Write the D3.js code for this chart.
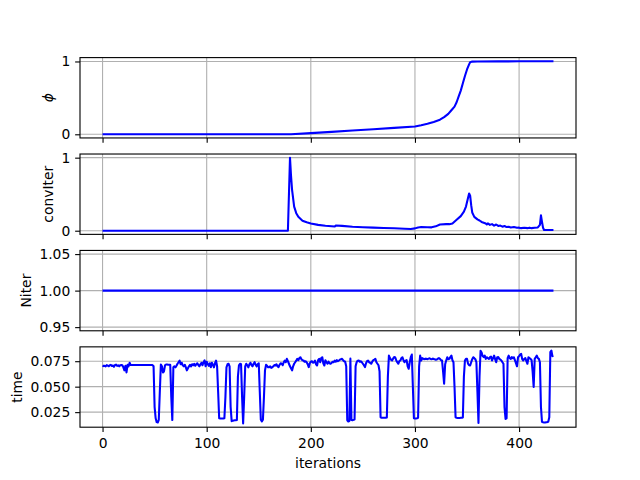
<!DOCTYPE html>
<html><head><meta charset="utf-8">
<script src="https://cdn.jsdelivr.net/npm/d3@7"></script>
<style>body{margin:0;background:#fff} text{font-family:"DejaVu Sans";}</style>
</head><body><svg id="c" width="640" height="480"></svg>
<script>
// ---------- data ----------
const iterTicks = [0, 100, 200, 300, 400];

const phiIter  = [0,181,200,220,240,260,280,300,306,312,318,324,328,332,335,338,340,342,344,346,348,350,352,353,355,360,380,400,420,433];
const phiValue = [0,0,0.016,0.033,0.051,0.069,0.088,0.108,0.125,0.145,0.17,0.2,0.235,0.28,0.33,0.38,0.44,0.52,0.6,0.7,0.8,0.89,0.96,0.99,0.998,1.0,1.001,1.002,1.003,1.003];
const phiTicks = [0, 1];
const phiTickLabels = ["0", "1"];

const convIterIter  = [0,178,180,181,182,184,186,188,192,196,200,207,214,223,224,230,240,250,260,270,280,290,296,300,303,306,312,316,320,324,330,333,336,340,344,347,349,351,352,353,354,355,357,360,362,364,366,368,369,370,372,374,376,378,380,382,384,386,388,390,392,395,398,400,402,405,408,410,412,415,418,420,421,422,423,424,433];
const convIterValue = [0,0,1.0,0.75,0.56,0.33,0.24,0.19,0.137,0.115,0.1,0.08,0.068,0.057,0.072,0.066,0.055,0.048,0.042,0.037,0.033,0.028,0.024,0.032,0.045,0.05,0.048,0.046,0.06,0.085,0.09,0.09,0.1,0.15,0.2,0.26,0.33,0.45,0.51,0.48,0.35,0.25,0.19,0.155,0.14,0.12,0.11,0.1,0.085,0.1,0.08,0.09,0.07,0.085,0.065,0.07,0.055,0.065,0.05,0.055,0.045,0.05,0.04,0.042,0.035,0.04,0.035,0.042,0.035,0.04,0.045,0.08,0.21,0.12,0.04,0.01,0.01];
const convTicks = [0, 1];
const convTickLabels = ["0", "1"];

const niterIter  = [0, 433];
const niterValue = [1, 1];
const niterTicks = [0.95, 1.00, 1.05];
const niterTickLabels = ["0.95", "1.00", "1.05"];

const timeValue = [
0.0708,0.0702,0.0705,0.0698,0.0712,0.0706,0.0700,0.0710,0.0714,0.0703,
0.0708,0.0695,0.0712,0.0716,0.0704,0.0709,0.0700,0.0711,0.0713,0.0710,
0.0690,0.0660,0.0705,0.0640,0.0715,0.0700,0.0735,0.0712,0.0712,0.0712,
0.0712,0.0712,0.0712,0.0712,0.0712,0.0712,0.0712,0.0712,0.0712,0.0712,
0.0712,0.0712,0.0712,0.0712,0.0712,0.0712,0.0712,0.0712,0.0712,0.0700,
0.0300,0.0190,0.0152,0.0148,0.0175,0.0450,0.0718,0.0700,0.0640,0.0650,
0.0710,0.0718,0.0718,0.0716,0.0716,0.0716,0.0400,0.0172,0.0690,0.0700,
0.0690,0.0705,0.0725,0.0740,0.0755,0.0720,0.0735,0.0710,0.0700,0.0715,
0.0690,0.0660,0.0680,0.0700,0.0715,0.0700,0.0720,0.0710,0.0725,0.0705,
0.0718,0.0730,0.0712,0.0700,0.0720,0.0735,0.0710,0.0740,0.0758,0.0700,
0.0745,0.0720,0.0705,0.0730,0.0690,0.0735,0.0715,0.0690,0.0730,0.0755,
0.0700,0.0450,0.0190,0.0188,0.0188,0.0188,0.0188,0.0190,0.0400,0.0690,
0.0720,0.0725,0.0700,0.0300,0.0162,0.0165,0.0168,0.0170,0.0170,0.0172,
0.0600,0.0710,0.0725,0.0720,0.0400,0.0138,0.0400,0.0700,0.0725,0.0710,
0.0690,0.0720,0.0735,0.0712,0.0700,0.0725,0.0740,0.0715,0.0700,0.0720,
0.0730,0.0450,0.0175,0.0160,0.0175,0.0400,0.0660,0.0714,0.0705,0.0690,
0.0692,0.0700,0.0685,0.0690,0.0700,0.0712,0.0708,0.0720,0.0700,0.0692,
0.0715,0.0730,0.0725,0.0710,0.0740,0.0756,0.0740,0.0773,0.0750,0.0725,
0.0700,0.0680,0.0660,0.0700,0.0725,0.0740,0.0755,0.0773,0.0760,0.0780,
0.0789,0.0770,0.0760,0.0757,0.0745,0.0750,0.0740,0.0720,0.0692,0.0730,
0.0745,0.0750,0.0735,0.0740,0.0755,0.0720,0.0708,0.0760,0.0773,0.0740,
0.0780,0.0789,0.0730,0.0708,0.0760,0.0740,0.0725,0.0745,0.0730,0.0725,
0.0735,0.0745,0.0740,0.0755,0.0745,0.0760,0.0750,0.0757,0.0765,0.0770,
0.0773,0.0760,0.0750,0.0745,0.0700,0.0170,0.0158,0.0162,0.0775,0.0172,
0.0170,0.0174,0.0178,0.0700,0.0740,0.0755,0.0757,0.0745,0.0750,0.0740,
0.0725,0.0710,0.0692,0.0730,0.0750,0.0757,0.0740,0.0735,0.0725,0.0745,
0.0760,0.0765,0.0773,0.0740,0.0725,0.0710,0.0650,0.0200,0.0195,0.0195,
0.0195,0.0195,0.0195,0.0197,0.0600,0.0805,0.0780,0.0765,0.0757,0.0775,
0.0790,0.0789,0.0760,0.0740,0.0725,0.0750,0.0757,0.0780,0.0789,0.0760,
0.0740,0.0755,0.0760,0.0700,0.0676,0.0740,0.0790,0.0815,0.0500,0.0190,
0.0188,0.0188,0.0190,0.0195,0.0700,0.0805,0.0757,0.0780,0.0773,0.0770,
0.0775,0.0773,0.0770,0.0775,0.0778,0.0772,0.0770,0.0775,0.0773,0.0768,
0.0765,0.0767,0.0775,0.0780,0.0773,0.0760,0.0757,0.0650,0.0530,0.0720,
0.0757,0.0789,0.0770,0.0773,0.0790,0.0805,0.0760,0.0740,0.0500,0.0200,
0.0195,0.0193,0.0193,0.0193,0.0195,0.0195,0.0198,0.0600,0.0757,0.0773,
0.0773,0.0725,0.0710,0.0708,0.0740,0.0770,0.0789,0.0780,0.0770,0.0740,
0.0450,0.0143,0.0600,0.0853,0.0835,0.0800,0.0790,0.0805,0.0773,0.0789,
0.0780,0.0773,0.0789,0.0795,0.0757,0.0780,0.0805,0.0770,0.0740,0.0789,
0.0790,0.0773,0.0765,0.0757,0.0740,0.0725,0.0300,0.0184,0.0190,0.0780,
0.0805,0.0780,0.0773,0.0790,0.0780,0.0789,0.0760,0.0730,0.0700,0.0789,
0.0800,0.0815,0.0822,0.0770,0.0757,0.0773,0.0780,0.0750,0.0725,0.0789,
0.0780,0.0773,0.0760,0.0650,0.0498,0.0773,0.0789,0.0805,0.0780,0.0773,
0.0740,0.0300,0.0155,0.0150,0.0148,0.0148,0.0150,0.0152,0.0155,0.0200,
0.0840,0.0855,0.0800,0.0805];
const timeIter = d3.range(timeValue.length);
const timeTicks = [0.025, 0.050, 0.075];
const timeTickLabels = ["0.025", "0.050", "0.075"];

const xLabel = "iterations";

// ---------- layout ----------
const W = 640, H = 480;
const L = 80, R = 576, T = 57.6, B = 427.2, hs = 0.2;
const fs = 13.89, tickLen = 4.86, tickPad = 4.86, lw = 1.11;

const panels = [
  {xs: phiIter, ys: phiValue, ticks: phiTicks, labels: phiTickLabels, name: "ϕ", italic: true},
  {xs: convIterIter, ys: convIterValue, ticks: convTicks, labels: convTickLabels, name: "convIter"},
  {xs: niterIter, ys: niterValue, ticks: niterTicks, labels: niterTickLabels, name: "Niter"},
  {xs: timeIter, ys: timeValue, ticks: timeTicks, labels: timeTickLabels, name: "time"}
];

const svg = d3.select("#c");
svg.append("rect").attr("width", W).attr("height", H).attr("fill", "#fff");

const n = panels.length;
const ah = (B - T) / (n + (n - 1) * hs);
const allX = panels.flatMap(p => p.xs);
const xMin = d3.min(allX), xMax = d3.max(allX), xSpan = xMax - xMin;
const x = d3.scaleLinear().domain([xMin - 0.05 * xSpan, xMax + 0.05 * xSpan]).range([L, R]);

panels.forEach((p, k) => {
  const top = T + k * ah * (1 + hs), bot = top + ah;
  let [lo, hi] = d3.extent(p.ys);
  if (lo === hi) { lo -= 0.05 * Math.abs(lo); hi += 0.05 * Math.abs(hi); }
  const pad = 0.05 * (hi - lo);
  const y = d3.scaleLinear().domain([lo - pad, hi + pad]).range([bot, top]);
  const g = svg.append("g");

  // grid
  g.append("g").selectAll("line").data(iterTicks).join("line")
    .attr("x1", d => x(d)).attr("x2", d => x(d)).attr("y1", top).attr("y2", bot)
    .attr("stroke", "#b0b0b0").attr("stroke-width", lw);
  g.append("g").selectAll("line").data(p.ticks).join("line")
    .attr("x1", L).attr("x2", R).attr("y1", d => y(d)).attr("y2", d => y(d))
    .attr("stroke", "#b0b0b0").attr("stroke-width", lw);

  // line
  const clipId = "clip" + k;
  svg.append("clipPath").attr("id", clipId).append("rect")
    .attr("x", L).attr("y", top).attr("width", R - L).attr("height", ah);
  g.append("path").datum(d3.zip(p.xs, p.ys))
    .attr("clip-path", `url(#${clipId})`)
    .attr("d", d3.line().x(d => x(d[0])).y(d => y(d[1])))
    .attr("fill", "none").attr("stroke", "#0000ff").attr("stroke-width", 2.08)
    .attr("stroke-linejoin", "round");

  // spines
  g.append("rect").attr("x", L).attr("y", top).attr("width", R - L).attr("height", ah)
    .attr("fill", "none").attr("stroke", "#000").attr("stroke-width", lw);

  // x axis
  const xa = d3.axisBottom(x).tickValues(iterTicks).tickSize(tickLen).tickPadding(tickPad + 1.4)
    .tickFormat(k === n - 1 ? d3.format("d") : () => "");
  const gx = g.append("g").attr("transform", `translate(0,${bot})`).call(xa);
  gx.select(".domain").remove();
  gx.selectAll(".tick line").attr("stroke", "#000").attr("stroke-width", lw);
  gx.selectAll("text").attr("font-size", fs).attr("font-family", "DejaVu Sans").attr("fill", "#000");

  // y axis
  const ya = d3.axisLeft(y).tickValues(p.ticks).tickSize(tickLen).tickPadding(tickPad)
    .tickFormat((d, i) => p.labels[i]);
  const gy = g.append("g").attr("transform", `translate(${L},0)`).call(ya);
  gy.select(".domain").remove();
  gy.selectAll(".tick line").attr("stroke", "#000").attr("stroke-width", lw);
  gy.selectAll("text").attr("font-size", fs).attr("font-family", "DejaVu Sans").attr("fill", "#000");

  let minX = Infinity;
  gy.selectAll("text").each(function () {
    const w = this.getComputedTextLength();
    minX = Math.min(minX, L - tickLen - tickPad - w);
  });
  const labelRight = minX - 5.56;
  const baseX = labelRight - 0.236 * fs;
  const cy = (top + bot) / 2;
  g.append("text").text(p.name)
    .attr("transform", `translate(${baseX},${cy}) rotate(-90)`)
    .attr("text-anchor", "middle").attr("font-size", fs)
    .attr("font-style", p.italic ? "italic" : "normal").attr("fill", "#000");
});

svg.append("text").text(xLabel).attr("x", (L + R) / 2).attr("y", 468)
  .attr("text-anchor", "middle").attr("font-size", fs).attr("fill", "#000");
</script></body></html>
